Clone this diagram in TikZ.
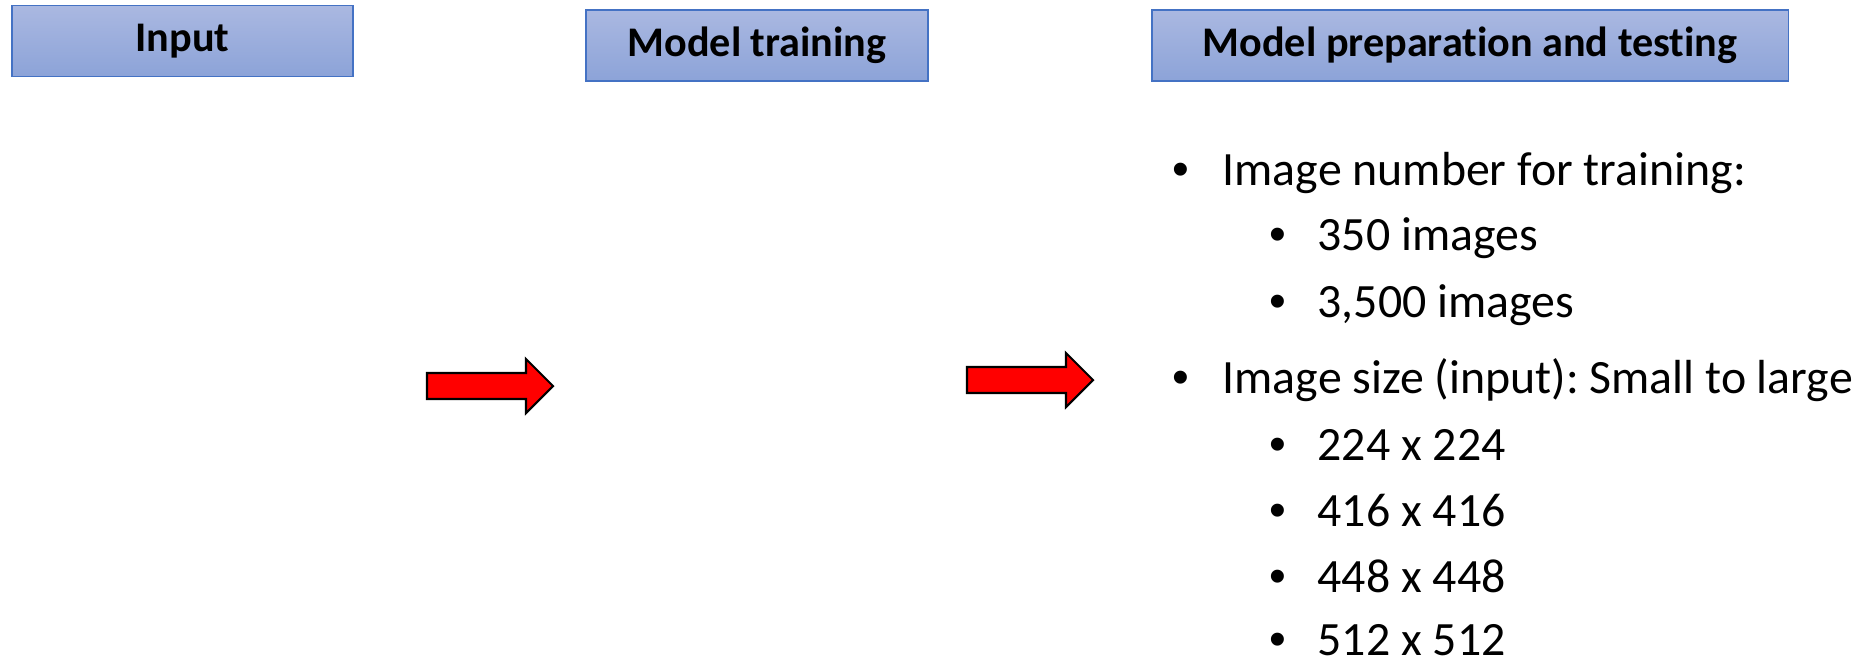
\documentclass[tikz,border=0pt]{standalone}
\usepackage{fontspec}
\setmainfont{Carlito}[Ligatures={NoCommon}]
\newfontfamily\bulletfont{Liberation Sans}
\usepackage{tikz}
\frenchspacing

\definecolor{headtop}{RGB}{170,184,225}
\definecolor{headbot}{RGB}{140,163,216}
\definecolor{headline}{RGB}{68,114,196}

\tikzset{
	head/.style={draw=headline, line width=0.4pt, top color=headtop, bottom color=headbot,
		minimum height=0.71cm, inner sep=0pt, font=\fontsize{12}{14}\selectfont\bfseries},
	item/.style={anchor=base west, inner sep=0pt, font=\fontsize{13.6}{16}\selectfont},
	dot/.style={anchor=base west, inner sep=0pt, font=\fontsize{13.6}{16}\bulletfont},
	bigarrow/.style={fill=red, draw=black, line width=0.6pt, line join=miter}
}

\begin{document}
\begin{tikzpicture}[x=0.01cm, y=-0.01cm]
	\useasboundingbox (0,0) rectangle (1870,657);
	
	% Header boxes
	\node[head, minimum width=3.41cm] (input) at (182.5,41) {Input};
	\node[head, minimum width=3.42cm] (train) at (757,45.5) {Model training};
	\node[head, minimum width=6.36cm] (prep) at (1470,45.5) {Model preparation and testing};
	
	% Arrows between the columns
	\coordinate (arrA) at (427,386);
	\draw[bigarrow] (arrA) ++(0,-13) -- ++(99,0) -- ++(0,-14) -- ++(27,27) -- ++(-27,27) -- ++(0,-14) -- ++(-99,0) -- cycle;
	\coordinate (arrB) at (967,380);
	\draw[bigarrow] (arrB) ++(0,-13) -- ++(99,0) -- ++(0,-14) -- ++(27,27) -- ++(-27,27) -- ++(0,-14) -- ++(-99,0) -- cycle;
	
	% First level list
	\node[dot] (b1) at (1172,185) {•};
	\node[item] (l1) at (1222,185) {Image number for training:};
	\node[dot] (b4) at (1172,393) {•};
	\node[item] (l4) at (1222,393) {Image size (input): Small to large};
	
	% Second level list
	\foreach \y/\txt/\nm in {250/350 images/l2, 317/{3,500 images}/l3, 460/224 x 224/l5, 526/416 x 416/l6, 592/448 x 448/l7, 655/512 x 512/l8}
	{
		\node[dot] at (1269,\y) {•};
		\node[item] (\nm) at (1317,\y) {\txt};
	}
	
\end{tikzpicture}
\end{document}
